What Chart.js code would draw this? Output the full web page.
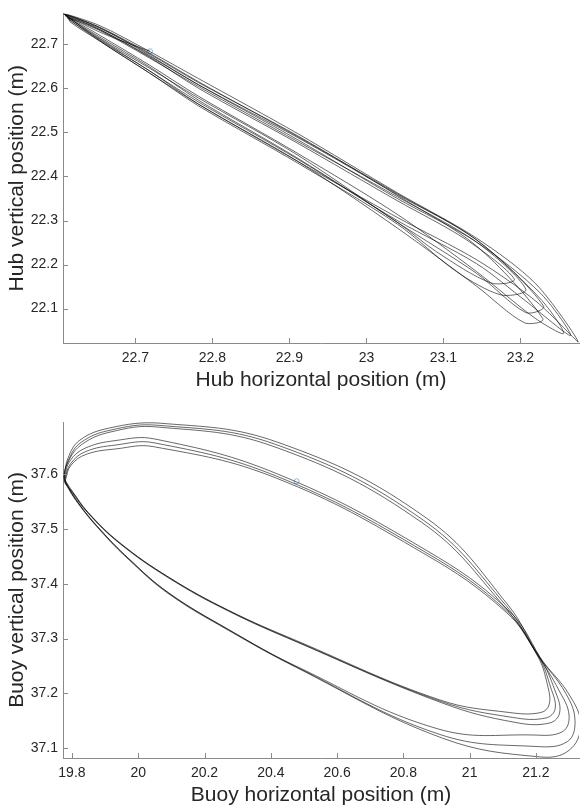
<!DOCTYPE html>
<html>
<head>
<meta charset="utf-8">
<script src="https://cdn.jsdelivr.net/npm/chart.js@4"></script>
<style>
  html, body { margin: 0; padding: 0; background: #fff; }
  .box { position: absolute; left: 0; width: 584px; height: 405px; }
</style>
</head>
<body>
<div class="box" style="top:0"><canvas id="hubChart" width="584" height="405"></canvas></div>
<div class="box" style="top:405px"><canvas id="buoyChart" width="584" height="405"></canvas></div>
<script>
// hub trajectory (m), one array per cycle
const hubStartX = [22.719, 22.664, 22.641];
const hubStartY = [22.684, 22.720, 22.738];
const hubX = [
  [22.607, 22.654, 22.718, 22.782, 22.911, 23.040, 23.143, 23.220, 23.275, 23.220, 23.143, 23.040, 22.911, 22.782, 22.718, 22.654, 22.615],
  [22.615, 22.654, 22.718, 22.782, 22.911, 23.040, 23.130, 23.192, 23.162, 23.091, 23.040, 22.911, 22.782, 22.718, 22.654],
  [22.610, 22.654, 22.718, 22.782, 22.911, 23.040, 23.143, 23.226, 23.265, 23.207, 23.143, 23.040, 22.911, 22.782, 22.718, 22.654, 22.621],
  [22.612, 22.654, 22.718, 22.782, 22.911, 23.040, 23.143, 23.207, 23.175, 23.117, 23.040, 22.911, 22.782, 22.718, 22.654],
  [22.609, 22.654, 22.718, 22.782, 22.911, 23.040, 23.143, 23.230, 23.207, 23.143, 23.040, 22.911, 22.782, 22.718, 22.654],
  [22.609, 22.654, 22.718, 22.782, 22.911, 23.040, 23.143, 23.226, 23.256, 23.220, 23.143, 23.040, 22.911, 22.782, 22.718, 22.654],
  [22.607, 22.654, 22.718, 22.782, 22.911, 23.040, 23.143, 23.229, 23.205, 23.143, 23.040, 22.911, 22.782, 22.718, 22.654, 22.609]
];
const hubY = [
  [22.769, 22.742, 22.684, 22.622, 22.497, 22.363, 22.260, 22.156, 22.024, 22.117, 22.211, 22.307, 22.434, 22.564, 22.635, 22.707, 22.751],
  [22.760, 22.733, 22.671, 22.600, 22.475, 22.345, 22.256, 22.167, 22.158, 22.229, 22.296, 22.441, 22.573, 22.649, 22.716],
  [22.765, 22.738, 22.675, 22.608, 22.483, 22.350, 22.251, 22.135, 22.039, 22.117, 22.202, 22.300, 22.439, 22.569, 22.640, 22.711, 22.747],
  [22.760, 22.731, 22.669, 22.604, 22.479, 22.354, 22.251, 22.144, 22.131, 22.184, 22.292, 22.430, 22.560, 22.635, 22.707],
  [22.765, 22.733, 22.673, 22.608, 22.488, 22.359, 22.256, 22.106, 22.091, 22.180, 22.296, 22.448, 22.578, 22.646, 22.713],
  [22.767, 22.738, 22.680, 22.615, 22.490, 22.361, 22.256, 22.122, 22.044, 22.077, 22.184, 22.314, 22.452, 22.582, 22.653, 22.720],
  [22.769, 22.736, 22.678, 22.613, 22.492, 22.357, 22.242, 22.077, 22.068, 22.151, 22.283, 22.434, 22.564, 22.640, 22.709, 22.767]
];

// buoy trajectory (m)
const buoyStartX = [20.478];
const buoyStartY = [37.587];
const buoyX = [
  [19.776, 19.788, 19.824, 19.913, 20.063, 20.421, 20.869, 21.116, 21.212, 21.301, 21.335, 21.300, 21.212, 20.919, 20.481, 20.272, 20.093, 19.973, 19.884, 19.818, 19.782],
  [19.779, 19.794, 19.839, 19.930, 20.050, 20.421, 20.869, 21.116, 21.212, 21.257, 21.272, 21.242, 21.137, 20.919, 20.481, 20.272, 20.093, 19.943, 19.848, 19.800],
  [19.778, 19.790, 19.828, 19.915, 20.060, 20.415, 20.860, 21.110, 21.208, 21.290, 21.318, 21.295, 21.200, 20.910, 20.478, 20.270, 20.092, 19.972, 19.883, 19.818, 19.783],
  [19.780, 19.796, 19.841, 19.932, 20.048, 20.418, 20.865, 21.112, 21.205, 21.235, 21.240, 21.215, 21.120, 20.910, 20.478, 20.270, 20.091, 19.942, 19.848, 19.801],
  [19.777, 19.789, 19.832, 19.918, 20.055, 20.410, 20.855, 21.105, 21.205, 21.270, 21.300, 21.280, 21.190, 20.905, 20.475, 20.268, 20.090, 19.971, 19.882, 19.817, 19.783],
  [19.781, 19.797, 19.843, 19.934, 20.046, 20.415, 20.862, 21.110, 21.208, 21.245, 21.258, 21.230, 21.130, 20.915, 20.480, 20.273, 20.094, 19.944, 19.849, 19.802, 19.778]
];
const buoyY = [
  [37.593, 37.629, 37.662, 37.684, 37.693, 37.658, 37.520, 37.361, 37.266, 37.197, 37.142, 37.096, 37.084, 37.118, 37.246, 37.315, 37.381, 37.443, 37.498, 37.547, 37.582],
  [37.594, 37.624, 37.647, 37.661, 37.664, 37.600, 37.461, 37.352, 37.266, 37.206, 37.166, 37.146, 37.147, 37.182, 37.293, 37.350, 37.410, 37.474, 37.529, 37.567],
  [37.590, 37.626, 37.658, 37.680, 37.689, 37.654, 37.516, 37.360, 37.268, 37.200, 37.150, 37.112, 37.103, 37.125, 37.248, 37.317, 37.383, 37.445, 37.500, 37.548, 37.583],
  [37.592, 37.619, 37.641, 37.653, 37.657, 37.596, 37.458, 37.350, 37.268, 37.215, 37.180, 37.165, 37.165, 37.188, 37.296, 37.352, 37.412, 37.475, 37.530, 37.568],
  [37.588, 37.623, 37.655, 37.677, 37.686, 37.650, 37.512, 37.358, 37.270, 37.205, 37.160, 37.130, 37.124, 37.135, 37.250, 37.318, 37.384, 37.446, 37.501, 37.549, 37.584],
  [37.590, 37.616, 37.636, 37.646, 37.650, 37.593, 37.455, 37.348, 37.267, 37.210, 37.172, 37.155, 37.156, 37.185, 37.294, 37.351, 37.411, 37.475, 37.530, 37.568, 37.590]
];

// axis limits and tick labels
const hubXRange = [22.606, 23.276];
const hubYRange = [22.022, 22.770];
const hubXTicks = [22.7, 22.8, 22.9, 23, 23.1, 23.2];
const hubYTicks = [22.1, 22.2, 22.3, 22.4, 22.5, 22.6, 22.7];
const buoyXRange = [19.773, 21.330];
const buoyYRange = [37.082, 37.695];
const buoyXTicks = [19.8, 20, 20.2, 20.4, 20.6, 20.8, 21, 21.2];
const buoyYTicks = [37.1, 37.2, 37.3, 37.4, 37.5, 37.6];

const textColor = '#262626';
const axisColor = '#8a8a8a';
const fontFamily = '"Liberation Sans", Arial, Helvetica, sans-serif';

function toPoints(xs, ys) {
  return xs.map((x, i) => ({ x: x, y: ys[i] }));
}
function trajectory(startX, startY, loopsX, loopsY) {
  let pts = toPoints(startX, startY);
  loopsX.forEach((lx, i) => { pts = pts.concat(toPoints(lx, loopsY[i])); });
  return pts;
}

// MATLAB style ticks pointing into the axes
const innerTicks = {
  id: 'innerTicks',
  afterDraw(chart) {
    const { ctx, chartArea: a, scales: { x, y } } = chart;
    ctx.save();
    ctx.strokeStyle = axisColor;
    ctx.lineWidth = 1;
    ctx.beginPath();
    x.ticks.forEach(t => {
      const px = Math.round(x.getPixelForValue(t.value)) + 0.5;
      ctx.moveTo(px, a.bottom);
      ctx.lineTo(px, a.bottom - 5);
    });
    y.ticks.forEach(t => {
      const py = Math.round(y.getPixelForValue(t.value)) + 0.5;
      ctx.moveTo(a.left, py);
      ctx.lineTo(a.left + 5, py);
    });
    ctx.stroke();
    ctx.restore();
  }
};

function makeChart(id, o) {
  return new Chart(document.getElementById(id), {
    type: 'scatter',
    data: {
      datasets: [{
        data: o.points,
        showLine: true,
        borderColor: 'rgba(0,0,0,0.85)',
        borderWidth: 0.7,
        pointRadius: 0,
        tension: o.tension
      }, {
        data: o.start,
        pointRadius: 2.5,
        pointBorderWidth: 1,
        pointBorderColor: '#8db7dc',
        pointBackgroundColor: 'rgba(0,0,0,0)'
      }]
    },
    options: {
      responsive: false,
      animation: false,
      layout: { padding: { top: o.padTop, right: 0, left: 0, bottom: 0 } },
      plugins: { legend: { display: false }, tooltip: { enabled: false } },
      scales: {
        x: {
          type: 'linear',
          min: o.xRange[0], max: o.xRange[1],
          afterBuildTicks: s => { s.ticks = o.xTicks.map(v => ({ value: v })); },
          afterFit: s => { s.height = o.xAxisHeight; },
          grid: { display: false, drawTicks: false },
          border: { display: true, color: axisColor, width: 1 },
          ticks: { color: textColor, padding: 7, maxRotation: 0, font: { family: fontFamily, size: 14 }, callback: v => String(v) },
          title: { display: true, text: o.xTitle, color: textColor, padding: { top: 0, bottom: o.xTitlePad }, font: { family: fontFamily, size: 21 } }
        },
        y: {
          type: 'linear',
          min: o.yRange[0], max: o.yRange[1],
          afterBuildTicks: s => { s.ticks = o.yTicks.map(v => ({ value: v })); },
          afterFit: s => { s.width = 63; },
          grid: { display: false, drawTicks: false },
          border: { display: true, color: axisColor, width: 1 },
          ticks: { color: textColor, padding: 5, font: { family: fontFamily, size: 14 }, callback: v => String(v) },
          title: { display: true, text: o.yTitle, color: textColor, padding: { top: 5, bottom: 0 }, font: { family: fontFamily, size: 21 } }
        }
      }
    },
    plugins: [innerTicks]
  });
}

makeChart('hubChart', {
  points: trajectory(hubStartX, hubStartY, hubX, hubY),
  start: toPoints(hubStartX.slice(0, 1), hubStartY.slice(0, 1)),
  tension: 0.3,
  padTop: 8,
  xAxisHeight: 62,
  xTitlePad: 12,
  xRange: hubXRange, yRange: hubYRange,
  xTicks: hubXTicks, yTicks: hubYTicks,
  xTitle: 'Hub horizontal position (m)',
  yTitle: 'Hub vertical position (m)'
});

makeChart('buoyChart', {
  points: trajectory([], [], buoyX, buoyY),
  start: toPoints(buoyStartX, buoyStartY),
  tension: 0.4,
  padTop: 17,
  xAxisHeight: 52,
  xTitlePad: 2,
  xRange: buoyXRange, yRange: buoyYRange,
  xTicks: buoyXTicks, yTicks: buoyYTicks,
  xTitle: 'Buoy horizontal position (m)',
  yTitle: 'Buoy vertical position (m)'
});
</script>
</body>
</html>
